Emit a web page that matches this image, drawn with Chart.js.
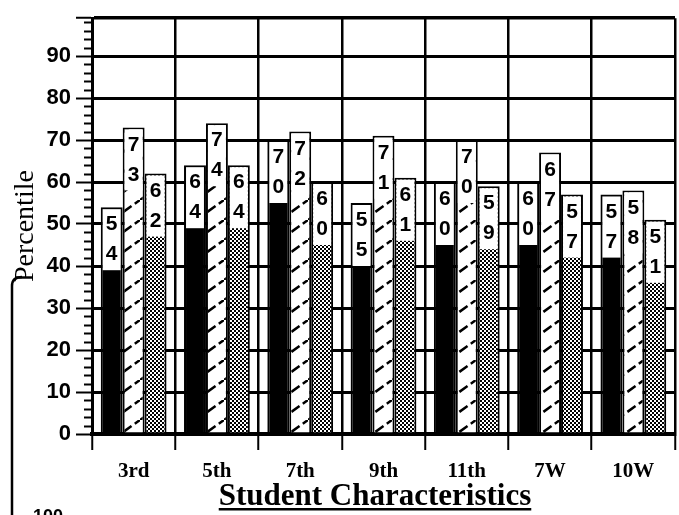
<!DOCTYPE html>
<html lang="en">
<head>
  <meta charset="UTF-8">
  <title>Percentile by Student Characteristics</title>
  <script src="https://cdn.jsdelivr.net/npm/chart.js"></script>
  <style>
    body { margin: 0; background: #fff; }
    #wrap { width: 679px; height: 515px; }
  </style>
</head>
<body>
  <div id="wrap"><canvas id="pctChart" width="679" height="515"></canvas></div>

  <script>
    const categories = ['3rd', '5th', '7th', '9th', '11th', '7W', '10W'];
    const solidValues = [54, 64, 70, 55, 60, 60, 57];
    const hatchValues = [73, 74, 72, 71, 70, 67, 58];
    const dotValues = [62, 64, 60, 61, 59, 57, 51];
    const yMax = 99;
    const boxUnits = 15; // height of the white value box, in axis units

    function hatchPattern() {
      const c = document.createElement('canvas');
      c.width = 28; c.height = 20;
      const g = c.getContext('2d');
      g.fillStyle = '#fff';
      g.fillRect(0, 0, 28, 20);
      g.strokeStyle = '#000';
      g.lineWidth = 2.5;
      g.setLineDash([10, 4]);
      g.beginPath();
      g.moveTo(0, 20);
      g.lineTo(28, 0);
      g.stroke();
      return g.createPattern(c, 'repeat');
    }

    function dotPattern() {
      const c = document.createElement('canvas');
      c.width = 4; c.height = 4;
      const g = c.getContext('2d');
      g.fillStyle = '#fff';
      g.fillRect(0, 0, 4, 4);
      g.fillStyle = '#000';
      g.fillRect(0, 0, 2, 2);
      g.fillRect(2, 2, 2, 2);
      return g.createPattern(c, 'repeat');
    }

    // white box with the value written digit over digit
    const valueBoxes = {
      id: 'valueBoxes',
      afterDatasetsDraw(chart) {
        const ctx = chart.ctx;
        const y = chart.scales.y;
        chart.data.datasets.forEach((ds, i) => {
          chart.getDatasetMeta(i).data.forEach((el, j) => {
            const v = ds.data[j];
            const bw = 2;
            const left = el.x - el.width / 2 + bw;
            const right = el.x + el.width / 2 - bw;
            const top = el.y + bw;
            const bottom = y.getPixelForValue(v - boxUnits);
            ctx.save();
            ctx.fillStyle = '#fff';
            ctx.fillRect(left, top, right - left, bottom - top);
            ctx.fillStyle = '#000';
            ctx.font = 'bold 21px "Liberation Sans"';
            ctx.textAlign = 'center';
            ctx.textBaseline = 'middle';
            const digits = String(v).split('');
            const mid = (top + bottom) / 2;
            digits.forEach((d, k) => {
              ctx.fillText(d, el.x, mid + (k - (digits.length - 1) / 2) * 30);
            });
            ctx.restore();
          });
        });
      }
    };

    const extras = {
      id: 'extras',
      afterDraw(chart) {
        const ctx = chart.ctx;
        const y = chart.scales.y;
        const area = chart.chartArea;
        ctx.save();
        // minor ticks every 2
        ctx.strokeStyle = '#000';
        ctx.lineWidth = 2;
        for (let v = 2; v < yMax; v += 2) {
          if (v % 10 === 0) continue;
          const py = Math.round(y.getPixelForValue(v)) + 0.5;
          ctx.beginPath();
          ctx.moveTo(area.left - 8, py);
          ctx.lineTo(area.left, py);
          ctx.stroke();
        }
        // x axis title, underlined
        ctx.fillStyle = '#000';
        ctx.font = 'bold 31px "Liberation Serif"';
        ctx.textAlign = 'center';
        ctx.textBaseline = 'alphabetic';
        const title = 'Student Characteristics';
        const tx = 375;
        ctx.fillText(title, tx, 505);
        const w = ctx.measureText(title).width;
        ctx.fillRect(tx - w / 2, 508, w, 2.5);
        // bracket and number from the neighbouring figure
        ctx.lineWidth = 2.5;
        ctx.beginPath();
        ctx.moveTo(22, 277);
        ctx.quadraticCurveTo(12, 277, 12, 286);
        ctx.lineTo(12, 515);
        ctx.stroke();
        ctx.font = 'bold 18px "Liberation Sans"';
        ctx.textAlign = 'left';
        ctx.textBaseline = 'top';
        ctx.fillText('100', 33, 508);
        ctx.restore();
      }
    };

    new Chart(document.getElementById('pctChart'), {
      type: 'bar',
      data: {
        labels: categories,
        datasets: [
          { data: solidValues, backgroundColor: '#000', borderColor: '#000', borderWidth: 2 },
          { data: hatchValues, backgroundColor: hatchPattern(), borderColor: '#000', borderWidth: 2 },
          { data: dotValues, backgroundColor: dotPattern(), borderColor: '#000', borderWidth: 2 }
        ]
      },
      options: {
        responsive: false,
        animation: false,
        layout: { padding: { top: 8, right: 4, left: 0, bottom: 0 } },
        datasets: { bar: { categoryPercentage: 0.79, barPercentage: 1 } },
        plugins: { legend: { display: false }, tooltip: { enabled: false } },
        scales: {
          x: {
            afterFit: s => { s.height = 81; },
            grid: { offset: true, color: '#000', lineWidth: 2.5, tickLength: 16, tickColor: '#000', tickWidth: 2 },
            border: { color: '#000', width: 4 },
            ticks: {
              color: '#000',
              maxRotation: 0,
              padding: 9,
              font: { family: 'Liberation Serif', weight: 'bold', size: 21 }
            }
          },
          y: {
            min: 0,
            max: yMax,
            afterFit: s => { s.width = 92; },
            grid: {
              color: '#000',
              lineWidth: c => (c.tick && c.tick.value === yMax ? 3.5 : 3),
              tickLength: 16,
              tickColor: '#000',
              tickWidth: 2
            },
            border: { color: '#000', width: 3 },
            ticks: {
              stepSize: 10,
              color: '#000',
              padding: 5,
              font: { family: 'Liberation Sans', weight: 'bold', size: 22 },
              callback: v => (v % 10 === 0 ? v : '')
            },
            title: {
              display: true,
              text: 'Percentile',
              color: '#000',
              padding: { top: 9, bottom: 0 },
              font: { family: 'Liberation Serif', size: 28 }
            }
          }
        }
      },
      plugins: [valueBoxes, extras]
    });
  </script>
</body>
</html>
